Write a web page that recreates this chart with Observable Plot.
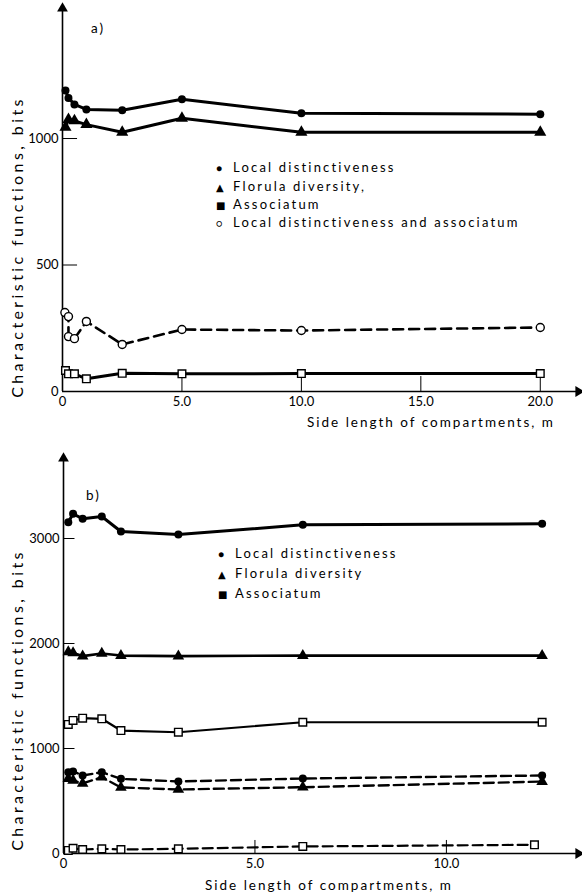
<!DOCTYPE html>
<html>
<head>
<meta charset="utf-8">
<script src="https://cdn.jsdelivr.net/npm/d3@7"></script>
<script src="https://cdn.jsdelivr.net/npm/@observablehq/plot@0.6"></script>
<style>
  html, body { margin: 0; padding: 0; background: white; }
  #wrap { position: relative; width: 582px; height: 896px; overflow: hidden; font-family: Lato, "DejaVu Sans", sans-serif; color: #000; }
  #wrap svg { display: block; }
  .t { position: absolute; white-space: nowrap; font-size: 13.5px; letter-spacing: 2px; line-height: 1; }
  .lg { position: absolute; white-space: nowrap; font-size: 13px; letter-spacing: 2.2px; line-height: 1; transform: translateY(-50%); }
  .mk { display: inline-block; width: 17px; font-size: 10px; letter-spacing: 0; }
  .ytitle { position: absolute; white-space: nowrap; font-size: 16px; letter-spacing: 3.4px; transform: translate(-50%, -50%) rotate(-90deg); }
</style>
</head>
<body>
<div id="wrap"></div>
<script>
// ---------- Panel a) data ----------
const aX = [0.125, 0.25, 0.5, 1, 2.5, 5, 10, 20];
const aLocal = [1190, 1160, 1135, 1115, 1112, 1155, 1100, 1096];
const aFlorula = [1045, 1075, 1070, 1055, 1025, 1080, 1025, 1025];
const aOpenSqX = [0.125, 0.25, 0.5, 1, 2.5, 5, 10, 20];
const aOpenSq = [83, 70, 70, 50, 72, 70, 71, 71];
const aLdaX = [0.1, 0.25, 0.25, 0.5, 1, 2.5, 5, 10, 20];
const aLda = [312, 296, 217, 209, 277, 186, 245, 241, 253];
const aYTicks = [0, 500, 1000];
const aXTicks = [0, 5, 10, 15, 20];

// ---------- Panel b) data ----------
const bX = [0.125, 0.25, 0.5, 1, 1.5, 3, 6.25, 12.5];
const bLocal = [3155, 3235, 3188, 3210, 3067, 3038, 3130, 3140];
const bFlorula = [1920, 1910, 1880, 1905, 1885, 1880, 1885, 1885];
const bAssoc = [1229, 1267, 1289, 1283, 1171, 1155, 1250, 1250];
const bLocalDash = [774, 781, 743, 774, 711, 686, 714, 743];
const bFlorulaDash = [714, 695, 667, 727, 629, 610, 631, 685];
const bOpenSqDashX = [0.125, 0.25, 0.5, 1, 1.5, 3, 6.25, 12.3];
const bOpenSqDash = [29, 50, 38, 45, 38, 45, 67, 83];
const bYTicks = [0, 1000, 2000, 3000];
const bXTicks = [0, 5, 10];

const zip = (xs, ys) => xs.map((x, i) => ({x, y: ys[i]}));
const fmtX = d => d === 0 ? "0" : d3.format(".1f")(d);

function panel(cfg) {
  const {width, height, mL, mR, mT, mB, xMax, yMax, yTicks, xTicks, yTickLen, xTickLen, series} = cfg;
  const marks = [];
  marks.push(Plot.ruleY([0], {x1: 0, x2: xMax, stroke: "black", strokeWidth: 1.6}));
  marks.push(Plot.ruleX([0], {y1: 0, y2: yMax, stroke: "black", strokeWidth: 1.6}));
  marks.push(Plot.dot([{x: 0, y: yMax}], {x: "x", y: "y", symbol: "triangle", r: 4, fill: "black", stroke: "none"}));
  marks.push(Plot.dot([{x: xMax, y: 0}], {x: "x", y: "y", symbol: "triangle", r: 4, fill: "black", stroke: "none", rotate: 90}));
  marks.push(Plot.ruleY(yTicks.filter(d => d > 0), {x1: 0, x2: yTickLen, stroke: "black", strokeWidth: 1}));
  marks.push(Plot.ruleX(xTicks.filter(d => d > 0), {y1: 0, y2: xTickLen, stroke: "black", strokeWidth: 1}));
  marks.push(Plot.axisY(yTicks, {tickSize: 0, tickPadding: 4, fontSize: 13, label: null, tickFormat: d => String(d)}));
  marks.push(Plot.axisX(xTicks, {tickSize: 0, tickPadding: 5, fontSize: 13, label: null, tickFormat: fmtX}));
  for (const s of series) {
    marks.push(Plot.line(s.data, {x: "x", y: "y", stroke: "black", strokeWidth: s.sw, strokeDasharray: s.dash || null, curve: "linear"}));
    marks.push(Plot.dot(s.data, {x: "x", y: "y", symbol: s.symbol, r: s.r, fill: s.fill, stroke: "black", strokeWidth: s.fill === "white" ? 1.4 : 0}));
  }
  return Plot.plot({
    width, height, marginLeft: mL, marginRight: mR, marginTop: mT, marginBottom: mB,
    x: {domain: [0, xMax], axis: null, label: null},
    y: {domain: [0, yMax], axis: null, label: null},
    style: {fontFamily: "Lato, 'DejaVu Sans', sans-serif", color: "black", background: "white", overflow: "visible"},
    marks
  });
}

const wrap = document.getElementById("wrap");

const chartA = panel({
  width: 582, height: 440, mL: 62, mR: 4, mT: 8, mB: 49,
  xMax: 21.6, yMax: 1514, yTicks: aYTicks, xTicks: aXTicks, yTickLen: 0.63, xTickLen: 59,
  series: [
    {data: zip(aX, aLocal), symbol: "circle", r: 4, fill: "black", sw: 3},
    {data: zip(aX, aFlorula), symbol: "triangle", r: 4.5, fill: "black", sw: 3},
    {data: zip(aLdaX, aLda), symbol: "circle", r: 4, fill: "white", sw: 2.6, dash: "10,6"},
    {data: zip(aOpenSqX, aOpenSq), symbol: "square", r: 4.3, fill: "white", sw: 3}
  ]
});
wrap.appendChild(chartA);

const chartB = panel({
  width: 582, height: 456, mL: 63, mR: 4, mT: 18, mB: 43,
  xMax: 13.45, yMax: 3762, yTicks: bYTicks, xTicks: bXTicks, yTickLen: 0.3, xTickLen: 124,
  series: [
    {data: zip(bX, bLocal), symbol: "circle", r: 4, fill: "black", sw: 3},
    {data: zip(bX, bFlorula), symbol: "triangle", r: 4.3, fill: "black", sw: 2.6},
    {data: zip(bX, bAssoc), symbol: "square", r: 4.3, fill: "white", sw: 2.2},
    {data: zip(bX, bLocalDash), symbol: "circle", r: 4, fill: "black", sw: 2.4, dash: "10,5"},
    {data: zip(bX, bFlorulaDash), symbol: "triangle", r: 4.3, fill: "black", sw: 2.4, dash: "10,5"},
    {data: zip(bOpenSqDashX, bOpenSqDash), symbol: "square", r: 4.3, fill: "white", sw: 2.2, dash: "10,5"}
  ]
});
wrap.appendChild(chartB);

function addText(cls, html, left, topPx) {
  const d = document.createElement("div");
  d.className = cls;
  d.innerHTML = html;
  d.style.left = left + "px";
  d.style.top = topPx + "px";
  wrap.appendChild(d);
  return d;
}
addText("t", "a)", 91, 22);
addText("t", "b)", 86, 489);
addText("t", "Side length of compartments, m", 307, 416);
addText("t", "Side length of compartments, m", 205, 879);
addText("ytitle", "Characteristic functions, bits", 16, 247);
addText("ytitle", "Characteristic functions, bits", 16, 700);

const legendA = [["●", "Local distinctiveness"], ["▲", "Florula diversity,"], ["■", "Associatum"], ["○", "Local distinctiveness and associatum"]];
const legendAy = [167, 186, 204, 222];
legendA.forEach((l, i) => addText("lg", `<span class="mk">${l[0]}</span>${l[1]}`, 216, legendAy[i]));
const legendB = [["●", "Local distinctiveness"], ["▲", "Florula diversity"], ["■", "Associatum"]];
const legendBy = [553, 573, 593];
legendB.forEach((l, i) => addText("lg", `<span class="mk">${l[0]}</span>${l[1]}`, 218, legendBy[i]));
</script>
</body>
</html>
